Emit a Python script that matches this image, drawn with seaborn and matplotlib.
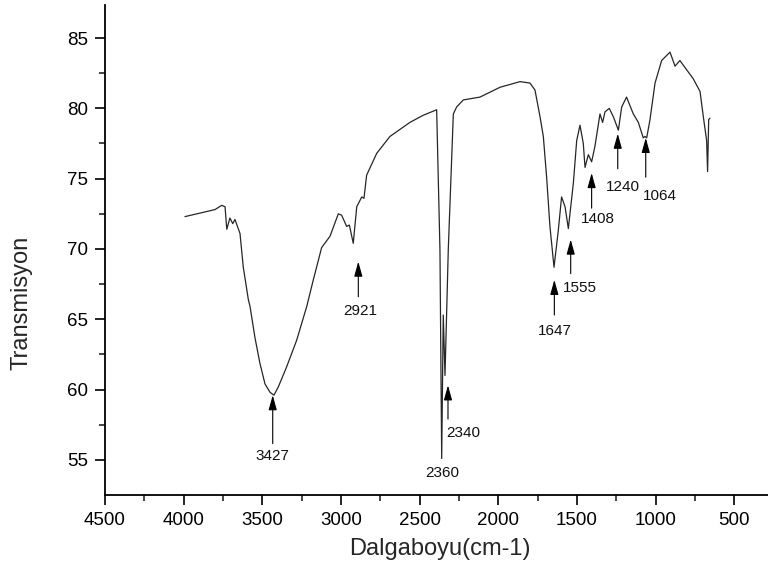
import matplotlib
matplotlib.use("Agg")
import matplotlib.pyplot as plt
import seaborn as sns
import pandas as pd

# Spectrum trace (wavenumber cm-1, transmission)
wavenumber = [3992, 3896, 3801, 3758, 3737, 3726, 3706, 3688, 3674, 3642, 3621,
              3589, 3578, 3547, 3515, 3483, 3451, 3426, 3398, 3346, 3282, 3218,
              3176, 3123, 3070, 3017, 2996, 2964, 2947, 2922, 2900, 2868, 2854,
              2837, 2773, 2689, 2562, 2479, 2392, 2371, 2360, 2350, 2339, 2318,
              2286, 2265, 2222, 2117, 1989, 1862, 1799, 1767, 1735, 1714, 1693,
              1672, 1646, 1619, 1598, 1576, 1555, 1523, 1502, 1481, 1460, 1449,
              1428, 1407, 1386, 1354, 1337, 1322, 1295, 1269, 1237, 1216, 1185,
              1142, 1110, 1079, 1068, 1057, 1036, 1004, 962, 909, 877, 846, 761,
              718, 697, 676, 670, 663, 655]
transmission = [72.3, 72.55, 72.8, 73.1, 73.0, 71.4, 72.2, 71.8, 72.1, 71.1, 68.7,
                66.4, 65.9, 63.7, 61.85, 60.4, 59.8, 59.6, 60.2, 61.6, 63.5, 65.9,
                67.8, 70.1, 70.9, 72.5, 72.4, 71.6, 71.7, 70.4, 73.0, 73.7, 73.6,
                75.25, 76.8, 78.0, 79.0, 79.5, 79.9, 69.9, 55.1, 65.3, 61.0, 70.0,
                79.6, 80.1, 80.6, 80.8, 81.5, 81.9, 81.8, 81.3, 79.4, 78.0, 75.1,
                71.6, 68.7, 71.3, 73.7, 73.0, 71.45, 74.7, 77.7, 78.8, 77.5, 75.8,
                76.7, 76.2, 77.3, 79.6, 79.0, 79.75, 80.0, 79.4, 78.45, 80.1, 80.8,
                79.6, 79.0, 77.9, 78.0, 77.9, 79.2, 81.8, 83.4, 84.0, 83.0, 83.4, 82.1,
                81.2, 79.4, 77.7, 75.5, 79.2, 79.3]

# Peak annotations
peak_labels = ["3427", "2921", "2360", "2340", "1647", "1555", "1408", "1240", "1064"]
arrow_x     = [3434, 2890, None, 2320, 1644, 1540, 1407, 1241, 1063]
arrow_tip   = [59.6, 69.1, None, 60.3, 67.8, 70.67, 75.4, 78.2, 77.9]
arrow_tail  = [56.15, 66.6, None, 57.9, 65.3, 68.25, 72.9, 75.7, 75.1]
label_x     = [3434, 2879, 2354, 2223, 1640, 1481, 1365, 1206, 972]
label_y     = [55.27, 65.6, 54.06, 56.9, 64.15, 67.2, 72.1, 74.4, 73.8]

sns.set_theme(style="ticks")
plt.rcParams["font.family"] = ["Liberation Sans", "DejaVu Sans"]

df = pd.DataFrame({"wn": wavenumber, "T": transmission})

fig = plt.figure(figsize=(7.68, 5.77), dpi=100)
ax = fig.add_axes([105 / 768, 82 / 577, 663 / 768, 490 / 577])

sns.lineplot(data=df, x="wn", y="T", ax=ax, sort=False, estimator=None,
             color="#262626", linewidth=0.9)

for lab, ax_x, tip, tail, lx, ly in zip(peak_labels, arrow_x, arrow_tip,
                                        arrow_tail, label_x, label_y):
    if ax_x is not None:
        ax.annotate("", xy=(ax_x, tip), xytext=(ax_x, tail),
                    arrowprops=dict(arrowstyle="-|>,head_length=0.9,head_width=0.25",
                                    color="black", lw=0.8, shrinkA=0, shrinkB=0,
                                    mutation_scale=10))
    ax.text(lx, ly, lab, ha="center", va="center", fontsize=11, color="#111111")

ax.set_xlim(4500, 286)
ax.set_ylim(52.5, 87.35)
ax.set_xticks([4500, 4000, 3500, 3000, 2500, 2000, 1500, 1000, 500])
ax.set_xticks([4250, 3750, 3250, 2750, 2250, 1750, 1250, 750], minor=True)
ax.set_yticks([55, 60, 65, 70, 75, 80, 85])
ax.set_yticks([57.5, 62.5, 67.5, 72.5, 77.5, 82.5], minor=True)

ax.tick_params(axis="both", which="major", length=7, width=1.2, labelsize=13.5,
               pad=5, colors="black")
ax.tick_params(axis="both", which="minor", length=4, width=1.2)

sns.despine(ax=ax)
for s in ["left", "bottom"]:
    ax.spines[s].set_linewidth(1.3)
    ax.spines[s].set_color("black")

ax.set_xlabel("Dalgaboyu(cm-1)", fontsize=17)
ax.set_ylabel("Transmisyon", fontsize=17)
ax.xaxis.set_label_coords(0.505, -0.088)
ax.yaxis.set_label_coords(-0.110, 0.392)

fig.savefig("out.png", dpi=100)
